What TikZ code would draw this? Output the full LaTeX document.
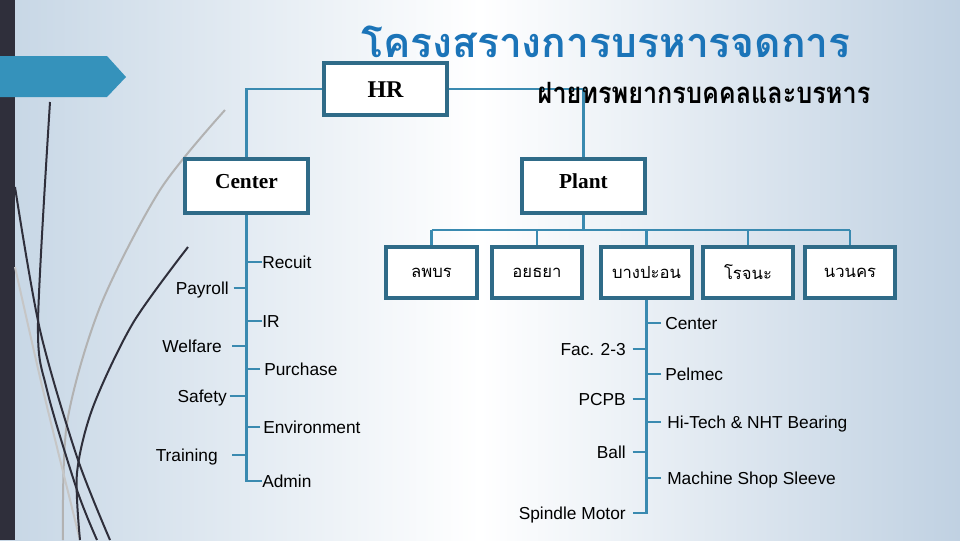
\documentclass[tikz,border=0pt]{standalone}
\usepackage{fontspec}
\setmainfont{Liberation Serif}
\setsansfont{Liberation Sans}
\newfontfamily\thaifont[Script=Thai]{Loma}
\usetikzlibrary{positioning,calc}
\definecolor{linkblue}{HTML}{3A8AB0}
\definecolor{boxedge}{HTML}{2F6B88}
\definecolor{titleblue}{HTML}{1B74B8}
\definecolor{arrowblue}{HTML}{3592BB}
\definecolor{barink}{HTML}{2F2F3B}
\definecolor{bgleft}{HTML}{C6D6E5}
\definecolor{bgright}{HTML}{C0D1E2}
\begin{document}
\begin{tikzpicture}[x=0.75pt, y=-0.75pt, unit/.style={draw=boxedge, line width=3pt, fill=white, minimum width=92pt, minimum height=40.5pt, font=\bfseries\fontsize{16}{18}\selectfont, text height=10pt, text depth=7pt}, site/.style={draw=boxedge, line width=3pt, fill=white, minimum width=68pt, minimum height=38pt, font=\thaifont\fontsize{12.5}{14}\selectfont}, link/.style={draw=linkblue, line width=2.2pt}, rlbl/.style={anchor=west, inner sep=0pt, text height=9.3pt, text depth=0pt, font=\sffamily\fontsize{13}{15}\selectfont}, llbl/.style={anchor=east, inner sep=0pt, text height=9.3pt, text depth=0pt, font=\sffamily\fontsize{13}{15}\selectfont}, swirl/.style={draw=barink, line width=1.5pt}, haze/.style={draw=gray!60, line width=1.5pt}]
\useasboundingbox (0,0) rectangle (960,540);
\shade[left color=bgleft, right color=bgright, middle color=white] (0,0) rectangle (960,540);
\fill[barink] (0,0) rectangle (15,540);
\draw[haze] plot[smooth] coordinates {(225,110) (160,190) (100,307) (67,423) (63,540)};
\draw[haze, gray!45] plot[smooth] coordinates {(15,267) (43,390) (80,540)};
\draw[swirl] plot[smooth] coordinates {(50,102) (38,323) (47,390) (77,490) (97,540)};
\draw[swirl] plot[smooth] coordinates {(15,187) (40,330) (77,457) (110,540)};
\draw[swirl] plot[smooth] coordinates {(188,247) (133,323) (93,407) (77,473) (80,540)};
\fill[arrowblue] (0,56) -- (107,56) -- (126,77) -- (107,97) -- (0,97) -- cycle;
\node[font=\thaifont\bfseries\fontsize{31}{34}\selectfont, text=titleblue, anchor=base] (title) at (606,57) {\resizebox{367pt}{\height}{โครงสรางการบรหารจดการ}};
\node[unit, text height=12pt, text depth=0pt, font=\bfseries\fontsize{18}{20}\selectfont, minimum height=39pt] (hr) at (385.5,89) {HR};
\node[unit] (center) at (246.5,186) {Center};
\node[unit] (plant) at (583.5,186) {Plant};
\draw[link] (hr.west) -| (center.north);
\draw[link] (hr.east) -| (plant.north);
\node[font=\thaifont\bfseries\fontsize{22}{24}\selectfont, anchor=base] (subtitle) at (704,103) {\scalebox{0.86}[1]{ฝายทรพยากรบคคลและบรหาร}};
\node[site] (s1) at (431.5,272.5) {ลพบร};
\node[site] (s2) at (537,272.5) {อยธยา};
\node[site] (s3) at (646.5,272.5) {บางปะอน};
\node[site] (s4) at (748,272.5) {โรจนะ};
\node[site] (s5) at (850,272.5) {นวนคร};
\coordinate (bus) at (583.5,230);
\draw[link] (plant.south) -- (bus);
\draw[link] (s1.north |- bus) -- (s5.north |- bus);
\draw[link] (s1.north) -- (s1.north |- bus);
\draw[link] (s2.north) -- (s2.north |- bus);
\draw[link] (s3.north) -- (s3.north |- bus);
\draw[link] (s4.north) -- (s4.north |- bus);
\draw[link] (s5.north) -- (s5.north |- bus);
\node[rlbl] (recuit) at (262,262) {Recuit};
\node[llbl] (payroll) at (229,288) {Payroll};
\node[rlbl] (ir) at (262,321) {IR};
\node[llbl] (welfare) at (222,346) {Welfare};
\node[rlbl] (purchase) at (264,369) {Purchase};
\node[llbl] (safety) at (227,396) {Safety};
\node[rlbl] (environment) at (263,427) {Environment};
\node[llbl] (training) at (218,455) {Training};
\node[rlbl] (admin) at (262,481) {Admin};
\draw[link] (center.south) |- (admin.west);
\draw[link] (recuit.west) -- (recuit.west -| center.south);
\draw[link] (ir.west) -- (ir.west -| center.south);
\draw[link, shorten <=3pt] (purchase.west) -- (purchase.west -| center.south);
\draw[link, shorten <=2pt] (environment.west) -- (environment.west -| center.south);
\draw[link, shorten <=3.5pt] (payroll.east) -- (payroll.east -| center.south);
\draw[link, shorten <=7.5pt] (welfare.east) -- (welfare.east -| center.south);
\draw[link, shorten <=2pt] (safety.east) -- (safety.east -| center.south);
\draw[link, shorten <=10.5pt] (training.east) -- (training.east -| center.south);
\node[rlbl] (pcenter) at (665,323) {Center};
\node[llbl] (fac) at (626,349) {Fac. 2-3};
\node[rlbl] (pelmec) at (665,374) {Pelmec};
\node[llbl] (pcpb) at (626,399) {PCPB};
\node[rlbl] (hitech) at (667,422) {Hi-Tech \& NHT Bearing};
\node[llbl] (ball) at (626,452) {Ball};
\node[rlbl] (sleeve) at (667,478) {Machine Shop Sleeve};
\node[llbl] (spindle) at (626,513) {Spindle Motor};
\draw[link, shorten >=5pt] (s3.south) |- (spindle.east);
\draw[link, shorten <=3pt] (pcenter.west) -- (pcenter.west -| s3.south);
\draw[link, shorten <=3pt] (pelmec.west) -- (pelmec.west -| s3.south);
\draw[link, shorten <=4.5pt] (hitech.west) -- (hitech.west -| s3.south);
\draw[link, shorten <=4.5pt] (sleeve.west) -- (sleeve.west -| s3.south);
\draw[link, shorten <=5pt] (fac.east) -- (fac.east -| s3.south);
\draw[link, shorten <=5pt] (pcpb.east) -- (pcpb.east -| s3.south);
\draw[link, shorten <=5pt] (ball.east) -- (ball.east -| s3.south);
\end{tikzpicture}
\end{document}
